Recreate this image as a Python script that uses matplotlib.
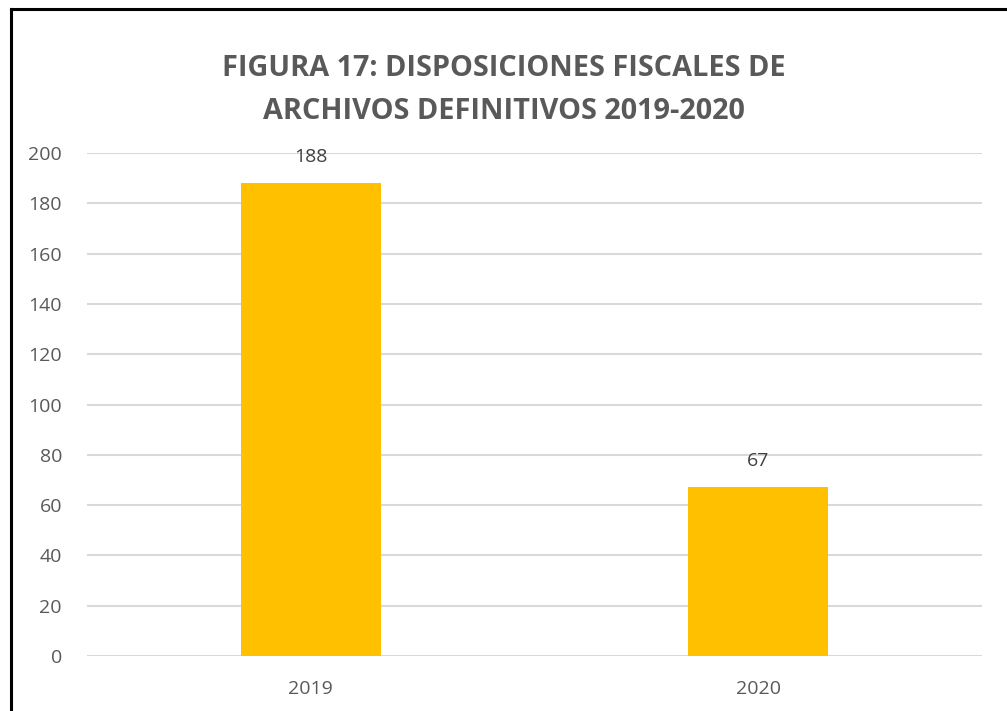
import matplotlib
matplotlib.use("Agg")
import matplotlib.pyplot as plt
from matplotlib.lines import Line2D

categories = ["2019", "2020"]
values = [188, 67]
yticks = [0, 20, 40, 60, 80, 100, 120, 140, 160, 180, 200]
title = "FIGURA 17: DISPOSICIONES FISCALES DE\nARCHIVOS DEFINITIVOS 2019-2020"

plt.rcParams['font.family'] = ['Open Sans', 'DejaVu Sans']
W, H = 1007, 711
fig = plt.figure(figsize=(W/100, H/100), dpi=100)
ax = fig.add_axes([87/W, 1-656/H, (982-87)/W, (656-153)/H])

x = list(range(len(categories)))
bars = ax.bar(x, values, width=0.313, color="#FFC000", zorder=3)
ax.set_xlim(-0.5, 1.5)
ax.set_ylim(0, 200)
ax.set_yticks(yticks)
ax.set_xticks(x)
ax.set_xticklabels(categories)
ax.grid(axis='y', color='#D9D9D9', linewidth=1.5, zorder=0)
for s in ax.spines.values():
    s.set_visible(False)
ax.tick_params(axis='both', length=0, labelsize=14, colors='#595959')
ax.tick_params(axis='y', pad=18)
ax.tick_params(axis='x', pad=17)
for b, v in zip(bars, values):
    ax.annotate(str(v), (b.get_x()+b.get_width()/2, v), xytext=(0, 19),
                textcoords='offset points', ha='center', va='center',
                fontsize=14, color='#404040')

fig.text(0.5, 1-90/H, title, ha='center', va='center', fontsize=20.8,
         fontweight='bold', color='#595959', linespacing=1.6)

# figure border (top and left visible)
fig.add_artist(Line2D([11/W, 11/W], [0, 1-9/H], transform=fig.transFigure, color='black', linewidth=2.2))
fig.add_artist(Line2D([11/W, 1], [1-9/H, 1-9/H], transform=fig.transFigure, color='black', linewidth=2.2))

fig.savefig("out.png", dpi=100, facecolor='white')
